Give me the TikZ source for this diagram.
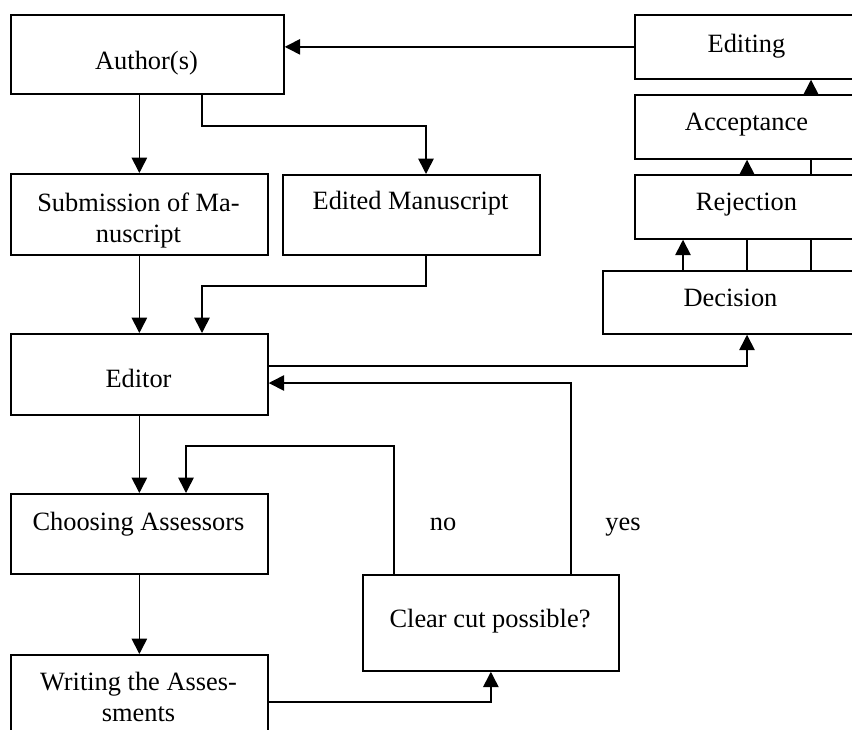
\documentclass[tikz,border=0pt]{standalone}
\usepackage{fontspec}
\setmainfont{Liberation Serif}
\usetikzlibrary{arrows.meta,backgrounds}
\begin{document}
\begin{tikzpicture}[x=0.75pt,y=-0.75pt,
  box/.style={draw, fill=white, line width=1.3pt, inner sep=0pt, anchor=north west},
  lbl/.style={font=\fontsize{19.8pt}{23pt}\selectfont, inner sep=0pt, anchor=base, align=center},
  link/.style={line width=1.2pt, -{Triangle[length=11.5pt,width=11.5pt]}},
]
\useasboundingbox (0,0) rectangle (852,729);
\clip (0,0) rectangle (852,729);

% process boxes (top-left corner, size in px)
\node[box, minimum width=273*0.75pt, minimum height=79*0.75pt] (author)   at (10,14)  {};
\node[box, minimum width=225*0.75pt, minimum height=64*0.75pt] (editing)  at (634,14) {};
\node[box, minimum width=225*0.75pt, minimum height=64*0.75pt] (accept)   at (634,94) {};
\node[box, minimum width=225*0.75pt, minimum height=64*0.75pt] (reject)   at (634,174) {};
\node[box, minimum width=257*0.75pt, minimum height=63*0.75pt] (decision) at (602,270) {};
\node[box, minimum width=257*0.75pt, minimum height=81*0.75pt] (submit)   at (10,173) {};
\node[box, minimum width=257*0.75pt, minimum height=80*0.75pt] (edited)   at (282,174) {};
\node[box, minimum width=257*0.75pt, minimum height=81*0.75pt] (editor)   at (10,333) {};
\node[box, minimum width=257*0.75pt, minimum height=80*0.75pt] (choose)   at (10,493) {};
\node[box, minimum width=256*0.75pt, minimum height=96*0.75pt] (clear)    at (362,574) {};
\node[box, minimum width=257*0.75pt, minimum height=96*0.75pt] (writing)  at (10,654) {};

% box texts (placed on the baseline of their last line)
\node[lbl] (author-t)   at (146.5,69)  {Author(s)};
\node[lbl] (editing-t)  at (746.5,52)  {Editing};
\node[lbl] (accept-t)   at (746.5,130) {Acceptance};
\node[lbl] (reject-t)   at (746.5,210) {Rejection};
\node[lbl] (decision-t) at (730.5,306) {Decision};
\node[lbl] (submit-t)   at (138.5,242) {Submission of Ma-\\nuscript};
\node[lbl] (edited-t)   at (410.5,209) {Edited Manuscript};
\node[lbl] (editor-t)   at (138.5,387) {Editor};
\node[lbl] (choose-t)   at (138.5,530) {Choosing Assessors};
\node[lbl] (clear-t)    at (490,627)   {Clear cut possible?};
\node[lbl] (writing-t)  at (138.5,721) {Writing the Asses-\\sments};
\node[lbl] (no)  at (443,530) {no};
\node[lbl] (yes) at (623,530) {yes};

% connectors
\draw[link] (editing.west) -- (editing.west -| author.east);
\draw[link] (author.south -| submit.north) -- (submit.north);
\draw[link] (author.south -| 202,0) |- (426,126) -- (edited.north -| 426,0);
\draw[link] (submit.south) -- (editor.north -| submit.south);
\draw[link] (edited.south -| 426,0) |- (202,286) -- (editor.north -| 202,0);
\draw[link] (editor.east |- 0,366) -| (decision.south -| 747,0);
\draw[link] (clear.north -| 571,0) |- (editor.east |- 0,383);
\draw[link] (editor.south) -- (choose.north);
\draw[link] (clear.north -| 394,0) |- (186,446) -- (choose.north -| 186,0);
\draw[link] (choose.south) -- (writing.north);
\draw[link] (writing.east |- 0,702) -| (clear.south);
\draw[link] (decision.north -| 683,0) -- (reject.south -| 683,0);
\begin{pgfonlayer}{background}
  % these two run behind the stacked boxes
  \draw[link] (decision.north -| 747,0) -- (accept.south -| 747,0);
  \draw[link] (decision.north -| 811,0) -- (editing.south -| 811,0);
\end{pgfonlayer}
\end{tikzpicture}
\end{document}
